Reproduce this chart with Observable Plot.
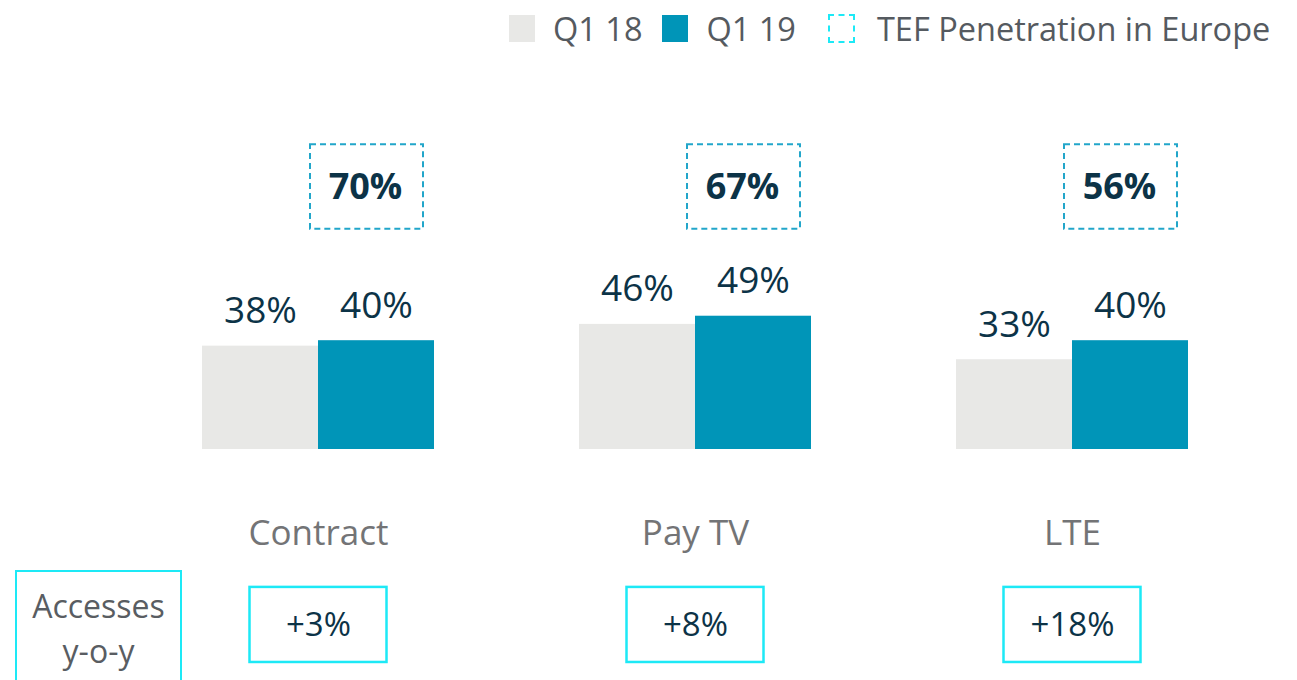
<!DOCTYPE html>
<html>
<head>
<meta charset="utf-8">
<script src="https://cdn.jsdelivr.net/npm/d3@7"></script>
<script src="https://cdn.jsdelivr.net/npm/@observablehq/plot@0.6"></script>
<style>
  html, body { margin: 0; padding: 0; background: #fff; overflow: hidden; }
  body { font-family: "Open Sans", sans-serif; }
  #wrap { position: relative; width: 1297px; height: 680px; }
  #legend { position: absolute; left: 509px; top: 6px; display: flex; align-items: center;
            font-size: 32.5px; color: #555a60; white-space: nowrap; }
  .sw { display: inline-block; width: 26px; height: 27px; margin-right: 18px; }
  .item { display: flex; align-items: center; margin-right: 20px; }
  #acc { position: absolute; left: 15px; top: 570px; width: 167px; height: 130px;
         border: 2.5px solid #1de9f6; box-sizing: border-box; text-align: center;
         font-size: 32px; line-height: 45px; color: #595d62; padding-top: 11px; }
</style>
</head>
<body>
<div id="wrap">
  <div id="chart"></div>
  <div id="legend"></div>
  <div id="acc">Accesses<br>y-o-y</div>
</div>
<script>
// ---- data ----
const categories = ["Contract", "Pay TV", "LTE"];
const series = ["Q1 18", "Q1 19"];
const q118 = [38, 46, 33];
const q119 = [40, 49, 40];
const penetration = [70, 67, 56];      // TEF Penetration in Europe
const accessesYoY = ["+3%", "+8%", "+18%"];

// ---- colours ----
const colors = { "Q1 18": "#e8e8e6", "Q1 19": "#0095b8" };
const valueColor = "#0c3347";

// ---- tables ----
const bars = categories.flatMap((c, i) => [
  { category: c, series: "Q1 18", value: q118[i] },
  { category: c, series: "Q1 19", value: q119[i] }
]);
const pen = categories.map((c, i) => ({ category: c, value: penetration[i] }));
const acc = categories.map((c, i) => ({ category: c, text: accessesYoY[i] }));

// layout constants (in y-scale units)
const penBox = [81, 112];
const accBox = [-78.3, -50.7];
const half = 116;

const chart = Plot.plot({
  width: 1297,
  height: 680,
  marginTop: 177,
  marginBottom: 231,
  marginLeft: 202,
  marginRight: 109,
  style: { fontFamily: "Open Sans, sans-serif", background: "transparent" },
  x: { domain: categories, paddingInner: 0.385, paddingOuter: 0, label: null },
  y: { domain: [0, 100], axis: null },
  marks: [
    Plot.barY(bars.filter(d => d.series === "Q1 18"), {
      x: "category", y: "value", fill: colors["Q1 18"], insetRight: half
    }),
    Plot.barY(bars.filter(d => d.series === "Q1 19"), {
      x: "category", y: "value", fill: colors["Q1 19"], insetLeft: half
    }),
    Plot.text(bars.filter(d => d.series === "Q1 18"), {
      x: "category", y: "value", text: d => d.value + "%", dx: -half / 2, dy: -23,
      lineAnchor: "bottom", fontSize: 37, fill: valueColor
    }),
    Plot.text(bars.filter(d => d.series === "Q1 19"), {
      x: "category", y: "value", text: d => d.value + "%", dx: half / 2, dy: -23,
      lineAnchor: "bottom", fontSize: 37, fill: valueColor
    }),
    // penetration dashed boxes
    Plot.barY(pen, {
      x: "category", y1: penBox[0], y2: penBox[1], fill: "none",
      stroke: "#22a6ca", strokeWidth: 2, strokeDasharray: "6,4",
      insetLeft: 108, insetRight: 11
    }),
    Plot.text(pen, {
      x: "category", y: (penBox[0] + penBox[1]) / 2, text: d => d.value + "%",
      dx: 47, fontSize: 36, fontWeight: "bold", fill: valueColor
    }),
    // accesses y-o-y boxes
    Plot.barY(acc, {
      x: "category", y1: accBox[0], y2: accBox[1], fill: "none",
      stroke: "#1de9f6", strokeWidth: 2.5, insetLeft: 47.5, insetRight: 47.5
    }),
    Plot.text(acc, {
      x: "category", y: (accBox[0] + accBox[1]) / 2, text: "text",
      fontSize: 33, fill: valueColor
    }),
    Plot.axisX({ tickSize: 0, tickPadding: 71, fontSize: 35, fill: "#737476", label: null })
  ]
});
document.getElementById("chart").appendChild(chart);

// legend
const legend = document.getElementById("legend");
series.forEach(s => {
  const it = document.createElement("div");
  it.className = "item";
  it.innerHTML = `<span class="sw" style="background:${colors[s]}"></span>${s}`;
  legend.appendChild(it);
});
const pi = document.createElement("div");
pi.className = "item";
pi.innerHTML = `<span class="sw" style="width:27px;height:29px;border:2.5px dashed #1de9f6;box-sizing:border-box;margin-left:12px;margin-right:22px"></span>TEF Penetration in Europe`;
legend.appendChild(pi);
</script>
</body>
</html>
